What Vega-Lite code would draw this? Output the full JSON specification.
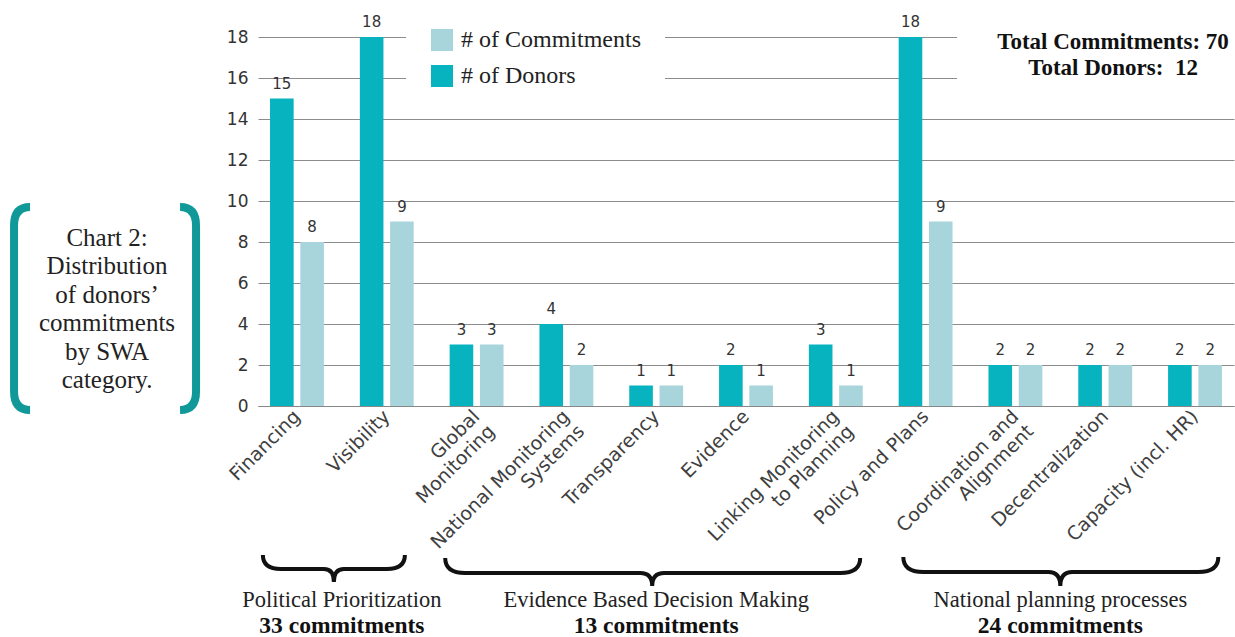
{
  "$schema": "https://vega.github.io/schema/vega-lite/v6.json",
  "width": 976,
  "height": 369,
  "autosize": {"type": "none"},
  "padding": {"left": 258, "top": 37, "right": 1, "bottom": 231},
  "background": "white",
  "config": {"view": {"stroke": null}},
  "datasets": {
    "bars": [
      {"category": "Financing", "group": "Political Prioritization", "series": "# of Donors", "value": 15},
      {"category": "Financing", "group": "Political Prioritization", "series": "# of Commitments", "value": 8},
      {"category": "Visibility", "group": "Political Prioritization", "series": "# of Donors", "value": 18},
      {"category": "Visibility", "group": "Political Prioritization", "series": "# of Commitments", "value": 9},
      {"category": "Global Monitoring", "group": "Evidence Based Decision Making", "series": "# of Donors", "value": 3},
      {"category": "Global Monitoring", "group": "Evidence Based Decision Making", "series": "# of Commitments", "value": 3},
      {"category": "National Monitoring Systems", "group": "Evidence Based Decision Making", "series": "# of Donors", "value": 4},
      {"category": "National Monitoring Systems", "group": "Evidence Based Decision Making", "series": "# of Commitments", "value": 2},
      {"category": "Transparency", "group": "Evidence Based Decision Making", "series": "# of Donors", "value": 1},
      {"category": "Transparency", "group": "Evidence Based Decision Making", "series": "# of Commitments", "value": 1},
      {"category": "Evidence", "group": "Evidence Based Decision Making", "series": "# of Donors", "value": 2},
      {"category": "Evidence", "group": "Evidence Based Decision Making", "series": "# of Commitments", "value": 1},
      {"category": "Linking Monitoring to Planning", "group": "Evidence Based Decision Making", "series": "# of Donors", "value": 3},
      {"category": "Linking Monitoring to Planning", "group": "Evidence Based Decision Making", "series": "# of Commitments", "value": 1},
      {"category": "Policy and Plans", "group": "National planning processes", "series": "# of Donors", "value": 18},
      {"category": "Policy and Plans", "group": "National planning processes", "series": "# of Commitments", "value": 9},
      {"category": "Coordination and Alignment", "group": "National planning processes", "series": "# of Donors", "value": 2},
      {"category": "Coordination and Alignment", "group": "National planning processes", "series": "# of Commitments", "value": 2},
      {"category": "Decentralization", "group": "National planning processes", "series": "# of Donors", "value": 2},
      {"category": "Decentralization", "group": "National planning processes", "series": "# of Commitments", "value": 2},
      {"category": "Capacity (incl. HR)", "group": "National planning processes", "series": "# of Donors", "value": 2},
      {"category": "Capacity (incl. HR)", "group": "National planning processes", "series": "# of Commitments", "value": 2}
    ],
    "groups": [
      {"group": "Political Prioritization", "total": 33},
      {"group": "Evidence Based Decision Making", "total": 13},
      {"group": "National planning processes", "total": 24}
    ]
  },
  "layer": [
    {
      "data": {"name": "bars"},
      "encoding": {
        "x": {
          "field": "category", "type": "nominal", "sort": null,
          "scale": {"paddingInner": 0.4, "paddingOuter": 0.134},
          "axis": {
            "title": null, "labelAngle": -45, "labelAlign": "right", "labelBaseline": "middle",
            "labelFont": "DejaVu Sans", "labelFontSize": 19, "labelColor": "#404040",
            "labelLineHeight": 21, "ticks": false, "domainColor": "#888888", "labelPadding": 7, "labelLimit": 0,
            "labelExpr": "datum.value == 'Global Monitoring' ? ['Global', 'Monitoring'] : datum.value == 'National Monitoring Systems' ? ['National Monitoring', 'Systems'] : datum.value == 'Linking Monitoring to Planning' ? ['Linking Monitoring', 'to Planning'] : datum.value == 'Coordination and Alignment' ? ['Coordination and', 'Alignment'] : datum.value"
          }
        },
        "xOffset": {"field": "series", "type": "nominal", "sort": ["# of Donors", "# of Commitments"], "scale": {"paddingInner": 0.22, "paddingOuter": 0}},
        "y": {
          "field": "value", "type": "quantitative", "scale": {"domain": [0, 18], "nice": false},
          "axis": {
            "title": null, "values": [0, 2, 4, 6, 8, 10, 12, 14, 16, 18],
            "labelFont": "DejaVu Sans", "labelFontSize": 17, "labelColor": "#333333",
            "ticks": false, "domain": false, "grid": true, "gridColor": "#8c8c8c", "labelPadding": 10
          }
        }
      },
      "layer": [
        {
          "mark": {"type": "bar"},
          "encoding": {
            "color": {
              "field": "series", "type": "nominal",
              "scale": {"domain": ["# of Commitments", "# of Donors"], "range": ["#A8D5DB", "#06B3BF"]},
              "legend": {
                "title": null, "orient": "none", "legendX": 148, "legendY": -33, "direction": "vertical",
                "symbolType": "square", "symbolSize": 484, "symbolStrokeWidth": 0,
                "labelFont": "Liberation Serif", "labelFontSize": 24, "labelColor": "#222222",
                "labelOffset": 7, "rowPadding": 12, "padding": 24, "fillColor": "white", "labelLimit": 0
              }
            }
          }
        },
        {
          "mark": {"type": "text", "baseline": "alphabetic", "dy": -10, "font": "DejaVu Sans", "fontSize": 15, "color": "#333333"},
          "encoding": {"text": {"field": "value", "type": "quantitative"}}
        }
      ]
    },
    {
      "layer": [
        {
          "data": {"values": [{}]},
          "mark": {"type": "rect", "fill": "white"},
          "encoding": {
            "x": {"datum": 8.35, "type": "quantitative", "scale": {"domain": [0.566, 11.434]}, "axis": null},
            "x2": {"datum": 11.6},
            "y": {"datum": 15.2, "type": "quantitative", "scale": {"domain": [0, 18], "nice": false}},
            "y2": {"datum": 19}
          }
        },
        {
          "data": {"values": [{}]},
          "mark": {"type": "text", "text": ["Total Commitments: 70", "Total Donors:\u00a0 12"], "font": "Liberation Serif", "fontWeight": "bold", "fontSize": 23, "lineHeight": 26, "align": "center", "baseline": "alphabetic", "color": "#111111"},
          "encoding": {
            "x": {"datum": 10.087, "type": "quantitative", "scale": {"domain": [0.566, 11.434]}, "axis": null},
            "y": {"datum": 17.415, "type": "quantitative", "scale": {"domain": [0, 18], "nice": false}}
          }
        },
        {
          "data": {"values": [{}]},
          "mark": {"type": "text", "text": ["Chart 2:", "Distribution", "of donors’", "commitments", "by SWA", "category."], "font": "Liberation Serif", "fontSize": 25, "lineHeight": 28.5, "align": "center", "baseline": "alphabetic", "color": "#222222"},
          "encoding": {
            "x": {"datum": -1.115, "type": "quantitative", "scale": {"domain": [0.566, 11.434]}, "axis": null},
            "y": {"datum": 7.805, "type": "quantitative", "scale": {"domain": [0, 18], "nice": false}}
          }
        },
        {
          "data": {"values": [{}]},
          "mark": {"type": "point", "shape": "M -77,-96.5 Q -93,-96.5 -93,-78 L -93,88 Q -93,106.5 -77,106.5 M 73,-96.5 Q 89,-96.5 89,-78 L 89,88 Q 89,106.5 73,106.5", "size": 4, "filled": false, "stroke": "#11999A", "strokeWidth": 8, "opacity": 1, "strokeCap": "butt"},
          "encoding": {
            "x": {"datum": -1.115, "type": "quantitative", "scale": {"domain": [0.566, 11.434]}, "axis": null},
            "y": {"datum": 5, "type": "quantitative", "scale": {"domain": [0, 18], "nice": false}}
          }
        },
        {
          "data": {"name": "bars"},
          "transform": [
            {"filter": "datum.series == '# of Donors'"},
            {"window": [{"op": "row_number", "as": "idx"}]},
            {"aggregate": [{"op": "mean", "field": "idx", "as": "center"}], "groupby": ["group"]},
            {"lookup": "group", "from": {"data": {"name": "groups"}, "key": "group", "fields": ["total"]}},
            {"calculate": "datum.total + ' commitments'", "as": "count_label"}
          ],
          "encoding": {
            "x": {"field": "center", "type": "quantitative", "scale": {"domain": [0.566, 11.434]}, "axis": null},
            "y": {"datum": 0, "type": "quantitative", "scale": {"domain": [0, 18], "nice": false}}
          },
          "layer": [
            {
              "mark": {"type": "text", "font": "Liberation Serif", "fontSize": 22.5, "dy": 201, "baseline": "alphabetic", "align": "center", "color": "#222222"},
              "encoding": {"text": {"field": "group", "type": "nominal"}}
            },
            {
              "mark": {"type": "text", "font": "Liberation Serif", "fontWeight": "bold", "fontSize": 23.5, "dy": 227, "baseline": "alphabetic", "align": "center", "color": "#111111"},
              "encoding": {"text": {"field": "count_label", "type": "nominal"}}
            },
            {
              "mark": {"type": "point", "size": 4, "filled": false, "stroke": "#111111", "strokeWidth": 4, "opacity": 1},
              "encoding": {
                "shape": {
                  "field": "group", "type": "nominal", "legend": null,
                  "scale": {
                    "domain": ["Political Prioritization", "Evidence Based Decision Making", "National planning processes"],
                    "range": [
                      "M -79,149 Q -79,163 -61,163 L -18,163 Q -8,163 -8,176 Q -8,163 2,163 L 45,163 Q 63,163 63,149",
                      "M -211,152 Q -211,167 -191,167 L -16,167 Q -4,167 -4,180 Q -4,167 8,167 L 184,167 Q 204,167 204,152",
                      "M -157,151 Q -157,166 -137,166 L -12,166 Q 0,166 0,180 Q 0,166 12,166 L 138,166 Q 158,166 158,151"
                    ]
                  }
                }
              }
            }
          ]
        }
      ]
    }
  ],
  "resolve": {"scale": {"x": "independent"}, "axis": {"x": "independent"}}
}
